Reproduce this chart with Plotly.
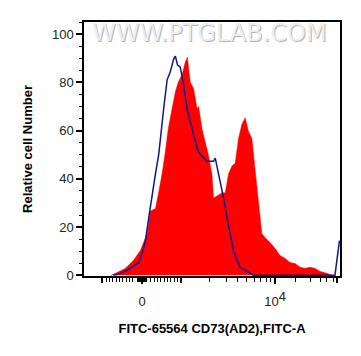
import plotly.graph_objects as go

# Display position on the biexponential FITC axis (0 -> "0", 100 -> "10^4")
stained_pos = [-23.7, -21.5, -12.5, -6.5, -1.3, 3.8, 6.2, 10, 12.2, 15, 17.5, 19.7, 22.5, 25, 27.2,
               30, 32.5, 34, 36.2, 38.7, 41.3, 42.5, 45, 47.5, 49.7, 52.5, 53.7, 56.3, 60, 62.5,
               65, 67.5, 70, 72.5, 75, 77.5, 80, 82.5, 85, 87.5, 90, 92.5, 96.2, 100, 103.7,
               107.5, 111.3, 115, 118.8, 122.5, 126.2, 130, 133.8, 139, 142.8]
stained_cnt = [0, 0.4, 2.9, 6.2, 10.3, 17.3, 26.7, 27.6, 33.7, 42, 51.4, 60.9, 69.1, 76.1, 80.2,
               83.1, 88.5, 90.5, 80.2, 77.4, 69.1, 70, 60.9, 55.6, 50.2, 42, 32.1, 32.9, 34.2, 34.2,
               42, 45.3, 46.5, 56.8, 62.6, 65.4, 59.7, 56.8, 44.4, 30.9, 17.3, 15.6, 13.6, 11.1, 8.2,
               7, 5.3, 4.9, 3.3, 2.9, 3.3, 2.9, 1.6, 0.8, 0]

control_pos = [-21.5, -16.3, -11.3, -6.3, -2.5, 0, 2.5, 5, 7.5, 10, 12.5, 15, 16.2, 18.8, 21.2,
               23.7, 25, 26.7, 28.7, 31.2, 33.8, 36.2, 38.7, 41.3, 43.7, 46.2, 48.8, 51.2, 53.7,
               55, 56.3, 58.7, 61.2, 63.8, 66.2, 68.7, 71.3, 73.7, 77.5, 81.2, 83.7, 145, 148.4]
control_cnt = [0, 0.8, 2.1, 4.1, 5.3, 9.1, 14.4, 23.9, 33.7, 42, 50.2, 63.8, 69.1, 81.1, 84.4,
               89.7, 90.9, 87.2, 86.4, 79, 69.1, 63.8, 58.4, 52.7, 50.2, 48.6, 47.3, 47.3, 47.3,
               48.6, 45.3, 39.1, 32.1, 23.9, 17.3, 10.3, 6.2, 3.3, 2.1, 0.8, 0, 0, 14.4]

x_labeled_ticks = [0, 100]
x_labels = ["0", "10<sup><span style='font-size:13px'>4</span></sup>"]
x_unlabeled_major = [-30, 29.5, 146.5]
x_minor_ticks = [-27, -24.5, -22, -19.5, -17, -14.5, -12, -9.5, -7,
                 -3.6, -2.8, -2, -1.2, -0.4, 0.4, 1.2, 2, 2.8, 3.6,
                 6.5, 9, 11.5, 14, 16.5, 19, 21.5, 24, 26.5,
                 50.7, 63.1, 71.9, 78.8, 84.4, 89.1, 93.2, 96.8,
                 115, 126.3, 133.8, 139, 143.6]
y_ticks = [0, 20, 40, 60, 80, 100]
x_range = [-43.7, 148.8]

fig = go.Figure()
fig.add_trace(go.Scatter(x=stained_pos, y=stained_cnt, mode="lines", fill="tozeroy",
                         fillcolor="#ff0000", line=dict(color="#ff0000", width=0.5),
                         hoverinfo="skip", showlegend=False))
fig.add_trace(go.Scatter(x=control_pos, y=control_cnt, mode="lines",
                         line=dict(color="#14148c", width=1.5),
                         hoverinfo="skip", showlegend=False))
# empty trace so that the secondary tick axis is drawn
fig.add_trace(go.Scatter(x=[], y=[], xaxis="x2", yaxis="y", showlegend=False,
                         hoverinfo="skip"))

fig.update_layout(
    width=353, height=348,
    margin=dict(l=76, r=21, t=12, b=80),
    paper_bgcolor="white", plot_bgcolor="white",
    font=dict(family="Liberation Sans, Arial, sans-serif", color="#222222", size=13),
    xaxis=dict(
        range=x_range, showgrid=False, zeroline=False,
        showline=True, linecolor="black", linewidth=1.5, mirror=True,
        tickmode="array", tickvals=x_labeled_ticks, ticktext=x_labels,
        ticks="outside", ticklen=6, tickwidth=2, tickcolor="black",
        ticklabelstandoff=7,
        tickfont=dict(size=13, color="#222222"),
        minor=dict(tickmode="array", tickvals=x_minor_ticks, ticks="outside",
                   ticklen=4, tickwidth=1, tickcolor="black", showgrid=False),
        title=dict(text="<b>FITC-65564 CD73(AD2),FITC-A</b>", standoff=16,
                   font=dict(size=13, color="black")),
    ),
    xaxis2=dict(
        range=x_range, overlaying="x", side="bottom", showgrid=False, zeroline=False,
        showline=False, tickmode="array", tickvals=x_unlabeled_major,
        showticklabels=False, ticks="outside", ticklen=6, tickwidth=2, tickcolor="black",
    ),
    yaxis=dict(
        range=[-0.3, 105.1], showgrid=False, zeroline=False,
        showline=True, linecolor="black", linewidth=1.5, mirror=True,
        tickmode="array", tickvals=y_ticks,
        ticks="outside", ticklen=6, tickwidth=1.5, tickcolor="black",
        tickfont=dict(size=13, color="#222222"),
        minor=dict(dtick=5, tick0=0, ticks="outside", ticklen=3, tickwidth=1,
                   tickcolor="black", showgrid=False),
        title=dict(text="<b>Relative cell Number</b>", standoff=16,
                   font=dict(size=13, color="black")),
    ),
)

# watermark
fig.add_annotation(text="WWW.PTGLAB.COM", xref="paper", yref="paper", x=0.495, y=0.953,
                   yanchor="middle", xanchor="center",
                   showarrow=False, font=dict(size=24, color="#b4b4b4",
                                              family="DejaVu Sans, Arial"))
fig.add_annotation(text="WWW.PTGLAB.COM", xref="paper", yref="paper", x=0.495, y=0.953,
                   yanchor="middle", xanchor="center",
                   xshift=-1, yshift=1, showarrow=False,
                   font=dict(size=24, color="#eeeeee", family="DejaVu Sans, Arial"))

fig.write_html("out.html")
